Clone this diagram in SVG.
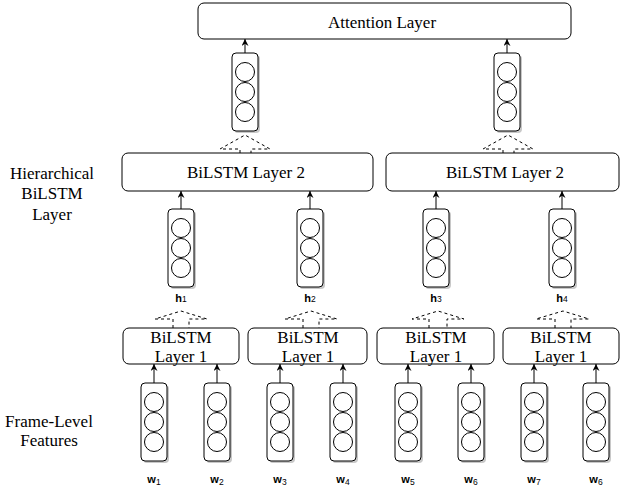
<svg xmlns="http://www.w3.org/2000/svg" xmlns:xlink="http://www.w3.org/1999/xlink" width="620" height="486" viewBox="0 0 620 486">
<style>
.box{fill:#fff;stroke:#000;stroke-width:1}
.t{font-family:"Liberation Serif","Times New Roman",serif;font-size:17px;fill:#000;text-anchor:middle}
.lbl{font-family:"Liberation Sans",Arial,sans-serif;font-size:11px;font-weight:bold;fill:#000;text-anchor:middle}
.sub{font-size:8.5px;font-weight:normal}
.arr{stroke:#000;stroke-width:1;fill:none;marker-end:url(#ah)}
.dash{stroke:#000;stroke-width:1;fill:none;stroke-dasharray:3 3}
</style>
<defs>
<marker id="ah" viewBox="0 0 8 8" refX="8" refY="4" markerWidth="7" markerHeight="7" markerUnits="userSpaceOnUse" orient="auto">
<path d="M0,0 L8,4 L0,8 L2.5,4 z" fill="#000"/>
</marker>
<g id="vec">
<rect x="2" y="2" width="26" height="78" rx="4" fill="#c8c8c8"/>
<rect x="0" y="0" width="26" height="78" rx="4" fill="#fff" stroke="#000"/>
<circle cx="13" cy="19" r="9.5" fill="#fff" stroke="#000"/>
<circle cx="13" cy="39" r="9.5" fill="#fff" stroke="#000"/>
<circle cx="13" cy="59" r="9.5" fill="#fff" stroke="#000"/>
</g>
</defs>
<rect width="620" height="486" fill="#fff"/>

<g id="side-labels">
<text class="t" x="52" y="179">Hierarchical</text>
<text class="t" x="52" y="199">BiLSTM</text>
<text class="t" x="52" y="220">Layer</text>
<text class="t" x="49" y="427">Frame-Level</text>
<text class="t" x="49" y="446">Features</text>
</g>

<g id="attention">
<rect class="box" x="198" y="3" width="373" height="36" rx="6"/>
<text class="t" x="382" y="28">Attention Layer</text>
</g>

<g id="bilstm2-left">
<rect class="box" x="122" y="153" width="251" height="38" rx="6"/>
<text class="t" x="246" y="178">BiLSTM Layer 2</text>
</g>
<g id="bilstm2-right">
<rect class="box" x="386" y="153" width="233" height="38" rx="6"/>
<text class="t" x="505" y="178">BiLSTM Layer 2</text>
</g>

<g id="bilstm1-a">
<rect class="box" x="123" y="328" width="116" height="36" rx="6"/>
<text class="t" x="181" y="343">BiLSTM</text>
<text class="t" x="181" y="362">Layer 1</text>
</g>
<g id="bilstm1-b">
<rect class="box" x="248" y="328" width="119" height="36" rx="6"/>
<text class="t" x="308" y="343">BiLSTM</text>
<text class="t" x="308" y="362">Layer 1</text>
</g>
<g id="bilstm1-c">
<rect class="box" x="377" y="328" width="117" height="36" rx="6"/>
<text class="t" x="436" y="343">BiLSTM</text>
<text class="t" x="436" y="362">Layer 1</text>
</g>
<g id="bilstm1-d">
<rect class="box" x="503" y="328" width="116" height="36" rx="6"/>
<text class="t" x="561" y="343">BiLSTM</text>
<text class="t" x="561" y="362">Layer 1</text>
</g>

<g id="vec-top-left"><use xlink:href="#vec" href="#vec" x="232" y="53"/></g>
<g id="vec-top-right"><use xlink:href="#vec" href="#vec" x="494" y="53"/></g>

<g id="h1"><use xlink:href="#vec" href="#vec" x="168" y="209"/><text class="lbl" x="181" y="302">h<tspan class="sub">1</tspan></text></g>
<g id="h2"><use xlink:href="#vec" href="#vec" x="297" y="209"/><text class="lbl" x="310" y="302">h<tspan class="sub">2</tspan></text></g>
<g id="h3"><use xlink:href="#vec" href="#vec" x="423" y="209"/><text class="lbl" x="436" y="302">h<tspan class="sub">3</tspan></text></g>
<g id="h4"><use xlink:href="#vec" href="#vec" x="549" y="209"/><text class="lbl" x="562" y="302">h<tspan class="sub">4</tspan></text></g>

<g id="w1"><use xlink:href="#vec" href="#vec" x="141" y="383"/><text class="lbl" x="154" y="483">w<tspan class="sub" dy="2">1</tspan></text></g>
<g id="w2"><use xlink:href="#vec" href="#vec" x="204" y="383"/><text class="lbl" x="217" y="483">w<tspan class="sub" dy="2">2</tspan></text></g>
<g id="w3"><use xlink:href="#vec" href="#vec" x="267" y="383"/><text class="lbl" x="280" y="483">w<tspan class="sub" dy="2">3</tspan></text></g>
<g id="w4"><use xlink:href="#vec" href="#vec" x="330" y="383"/><text class="lbl" x="343" y="483">w<tspan class="sub" dy="2">4</tspan></text></g>
<g id="w5"><use xlink:href="#vec" href="#vec" x="395" y="383"/><text class="lbl" x="408" y="483">w<tspan class="sub" dy="2">5</tspan></text></g>
<g id="w6"><use xlink:href="#vec" href="#vec" x="458" y="383"/><text class="lbl" x="471" y="483">w<tspan class="sub" dy="2">6</tspan></text></g>
<g id="w7"><use xlink:href="#vec" href="#vec" x="521" y="383"/><text class="lbl" x="534" y="483">w<tspan class="sub" dy="2">7</tspan></text></g>
<g id="w8"><use xlink:href="#vec" href="#vec" x="583" y="383"/><text class="lbl" x="596" y="483">w<tspan class="sub" dy="2">6</tspan></text></g>

<g id="connectors">
<line class="arr" x1="245" y1="53" x2="245" y2="39"/>
<line class="arr" x1="507" y1="53" x2="507" y2="39"/>
<line class="arr" x1="181" y1="209" x2="181" y2="191"/>
<line class="arr" x1="310" y1="209" x2="310" y2="191"/>
<line class="arr" x1="436" y1="209" x2="436" y2="191"/>
<line class="arr" x1="562" y1="209" x2="562" y2="191"/>
<line class="arr" x1="154" y1="383" x2="154" y2="364"/>
<line class="arr" x1="217" y1="383" x2="217" y2="364"/>
<line class="arr" x1="280" y1="383" x2="280" y2="364"/>
<line class="arr" x1="343" y1="383" x2="343" y2="364"/>
<line class="arr" x1="408" y1="383" x2="408" y2="364"/>
<line class="arr" x1="471" y1="383" x2="471" y2="364"/>
<line class="arr" x1="534" y1="383" x2="534" y2="364"/>
<line class="arr" x1="596" y1="383" x2="596" y2="364"/>
<path class="dash" d="M240,153 L240,149 L220,149 L245,135 L270,149 L251,149 L251,153"/>
<path class="dash" d="M503,153 L503,149 L483,149 L508,135 L533,149 L514,149 L514,153"/>
<path class="dash" d="M173,328 L173,319 L155,319 L181,311 L207,319 L189,319 L189,328"/>
<path class="dash" d="M303,328 L303,319 L285,319 L311,311 L337,319 L319,319 L319,328"/>
<path class="dash" d="M429,328 L429,319 L412,319 L438,311 L464,319 L447,319 L447,328"/>
<path class="dash" d="M555,328 L555,319 L536,319 L563,311 L589,319 L571,319 L571,328"/>
</g>
</svg>
